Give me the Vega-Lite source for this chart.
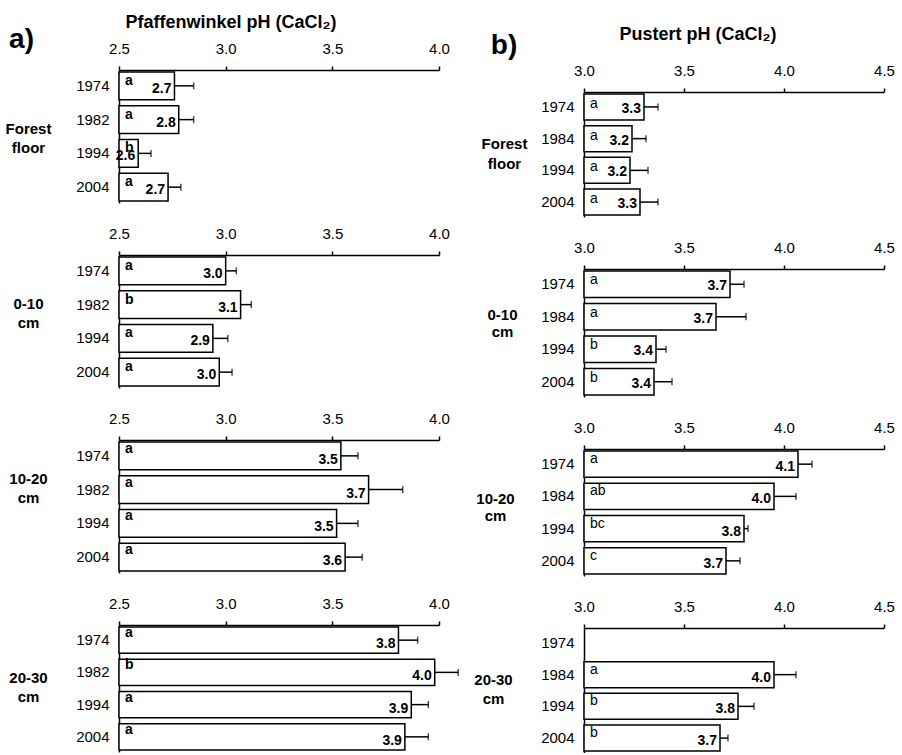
{
  "$schema": "https://vega.github.io/schema/vega-lite/v6.json",
  "background": "white",
  "padding": {"left": 5, "top": 13, "right": 2, "bottom": 0},
  "spacing": 14,
  "data": {"values": [
    {"site": "a", "depth": "Forest floor", "year": "1974", "ph": 2.76, "upper": 2.85, "label": "2.7", "group": "a"},
    {"site": "a", "depth": "Forest floor", "year": "1982", "ph": 2.78, "upper": 2.85, "label": "2.8", "group": "a"},
    {"site": "a", "depth": "Forest floor", "year": "1994", "ph": 2.59, "upper": 2.65, "label": "2.6", "group": "b"},
    {"site": "a", "depth": "Forest floor", "year": "2004", "ph": 2.73, "upper": 2.79, "label": "2.7", "group": "a"},
    {"site": "a", "depth": "0-10 cm", "year": "1974", "ph": 3.0, "upper": 3.05, "label": "3.0", "group": "a"},
    {"site": "a", "depth": "0-10 cm", "year": "1982", "ph": 3.07, "upper": 3.12, "label": "3.1", "group": "b"},
    {"site": "a", "depth": "0-10 cm", "year": "1994", "ph": 2.94, "upper": 3.01, "label": "2.9", "group": "a"},
    {"site": "a", "depth": "0-10 cm", "year": "2004", "ph": 2.97, "upper": 3.03, "label": "3.0", "group": "a"},
    {"site": "a", "depth": "10-20 cm", "year": "1974", "ph": 3.54, "upper": 3.62, "label": "3.5", "group": "a"},
    {"site": "a", "depth": "10-20 cm", "year": "1982", "ph": 3.67, "upper": 3.83, "label": "3.7", "group": "a"},
    {"site": "a", "depth": "10-20 cm", "year": "1994", "ph": 3.52, "upper": 3.62, "label": "3.5", "group": "a"},
    {"site": "a", "depth": "10-20 cm", "year": "2004", "ph": 3.56, "upper": 3.64, "label": "3.6", "group": "a"},
    {"site": "a", "depth": "20-30 cm", "year": "1974", "ph": 3.81, "upper": 3.9, "label": "3.8", "group": "a"},
    {"site": "a", "depth": "20-30 cm", "year": "1982", "ph": 3.98, "upper": 4.09, "label": "4.0", "group": "b"},
    {"site": "a", "depth": "20-30 cm", "year": "1994", "ph": 3.87, "upper": 3.95, "label": "3.9", "group": "a"},
    {"site": "a", "depth": "20-30 cm", "year": "2004", "ph": 3.84, "upper": 3.95, "label": "3.9", "group": "a"},
    {"site": "b", "depth": "Forest floor", "year": "1974", "ph": 3.3, "upper": 3.37, "label": "3.3", "group": "a"},
    {"site": "b", "depth": "Forest floor", "year": "1984", "ph": 3.24, "upper": 3.31, "label": "3.2", "group": "a"},
    {"site": "b", "depth": "Forest floor", "year": "1994", "ph": 3.23, "upper": 3.32, "label": "3.2", "group": "a"},
    {"site": "b", "depth": "Forest floor", "year": "2004", "ph": 3.28, "upper": 3.37, "label": "3.3", "group": "a"},
    {"site": "b", "depth": "0-10 cm", "year": "1974", "ph": 3.73, "upper": 3.8, "label": "3.7", "group": "a"},
    {"site": "b", "depth": "0-10 cm", "year": "1984", "ph": 3.66, "upper": 3.81, "label": "3.7", "group": "a"},
    {"site": "b", "depth": "0-10 cm", "year": "1994", "ph": 3.36, "upper": 3.41, "label": "3.4", "group": "b"},
    {"site": "b", "depth": "0-10 cm", "year": "2004", "ph": 3.35, "upper": 3.44, "label": "3.4", "group": "b"},
    {"site": "b", "depth": "10-20 cm", "year": "1974", "ph": 4.07, "upper": 4.14, "label": "4.1", "group": "a"},
    {"site": "b", "depth": "10-20 cm", "year": "1984", "ph": 3.95, "upper": 4.06, "label": "4.0", "group": "ab"},
    {"site": "b", "depth": "10-20 cm", "year": "1994", "ph": 3.8, "upper": 3.82, "label": "3.8", "group": "bc"},
    {"site": "b", "depth": "10-20 cm", "year": "2004", "ph": 3.71, "upper": 3.78, "label": "3.7", "group": "c"},
    {"site": "b", "depth": "20-30 cm", "year": "1984", "ph": 3.95, "upper": 4.06, "label": "4.0", "group": "a"},
    {"site": "b", "depth": "20-30 cm", "year": "1994", "ph": 3.77, "upper": 3.85, "label": "3.8", "group": "b"},
    {"site": "b", "depth": "20-30 cm", "year": "2004", "ph": 3.68, "upper": 3.72, "label": "3.7", "group": "b"}
  ]},
  "hconcat": [
    {
      "title": {"text": "a)", "anchor": "start", "fontSize": 28, "fontWeight": "bold", "dy": 45, "dx": 4, "offset": 4, "color": "black"},
      "spacing": 23,
      "vconcat": [
        {
          "width": 320, "height": 133,
          "transform": [{"filter": {"and": [{"field": "site", "equal": "a"}, {"field": "depth", "equal": "Forest floor"}]}}],
          "encoding": {"y": {"field": "year", "type": "ordinal", "scale": {"domain": ["1974", "1982", "1994", "2004"], "paddingInner": 0.18, "paddingOuter": 0.06}, "axis": {"title": ["Forest", "floor"], "titleX": -91, "titleY": 58}}},
          "layer": [
            {"mark": {"type": "bar", "fill": "white", "stroke": "black", "strokeWidth": 1.5}, "encoding": {"x": {"field": "ph", "type": "quantitative", "scale": {"domain": [2.5, 4.0], "nice": false, "zero": false}, "axis": {"orient": "top", "values": [2.5, 3, 3.5, 4], "format": ".1f", "title": "Pfaffenwinkel pH (CaCl₂)", "titleFontSize": 18, "titleFontWeight": "bold", "titlePadding": 10, "titleX": 6, "titleAlign": "left"}}, "x2": {"datum": 2.5}}},
            {"mark": {"type": "rule", "stroke": "black", "strokeWidth": 1.5}, "encoding": {"x": {"field": "ph", "type": "quantitative"}, "x2": {"field": "upper"}}},
            {"mark": {"type": "tick", "color": "black", "thickness": 1.5, "size": 7}, "encoding": {"x": {"field": "upper", "type": "quantitative"}}},
            {"mark": {"type": "text", "align": "left", "baseline": "middle", "dx": 6, "dy": -5, "fontSize": 14, "fontWeight": "bold", "color": "black"}, "encoding": {"x": {"datum": 2.5}, "text": {"field": "group"}}},
            {"mark": {"type": "text", "align": "right", "baseline": "middle", "dx": -3, "dy": 3, "fontSize": 14, "fontWeight": "bold", "color": "black"}, "encoding": {"x": {"field": "ph", "type": "quantitative"}, "text": {"field": "label"}}}
          ]
        },
        {
          "width": 320, "height": 133,
          "transform": [{"filter": {"and": [{"field": "site", "equal": "a"}, {"field": "depth", "equal": "0-10 cm"}]}}],
          "encoding": {"y": {"field": "year", "type": "ordinal", "scale": {"domain": ["1974", "1982", "1994", "2004"], "paddingInner": 0.18, "paddingOuter": 0.06}, "axis": {"title": ["0-10", "cm"], "titleX": -91, "titleY": 48}}},
          "layer": [
            {"mark": {"type": "bar", "fill": "white", "stroke": "black", "strokeWidth": 1.5}, "encoding": {"x": {"field": "ph", "type": "quantitative", "scale": {"domain": [2.5, 4.0], "nice": false, "zero": false}, "axis": {"orient": "top", "values": [2.5, 3, 3.5, 4], "format": ".1f", "title": null}}, "x2": {"datum": 2.5}}},
            {"mark": {"type": "rule", "stroke": "black", "strokeWidth": 1.5}, "encoding": {"x": {"field": "ph", "type": "quantitative"}, "x2": {"field": "upper"}}},
            {"mark": {"type": "tick", "color": "black", "thickness": 1.5, "size": 7}, "encoding": {"x": {"field": "upper", "type": "quantitative"}}},
            {"mark": {"type": "text", "align": "left", "baseline": "middle", "dx": 6, "dy": -5, "fontSize": 14, "fontWeight": "bold", "color": "black"}, "encoding": {"x": {"datum": 2.5}, "text": {"field": "group"}}},
            {"mark": {"type": "text", "align": "right", "baseline": "middle", "dx": -3, "dy": 3, "fontSize": 14, "fontWeight": "bold", "color": "black"}, "encoding": {"x": {"field": "ph", "type": "quantitative"}, "text": {"field": "label"}}}
          ]
        },
        {
          "width": 320, "height": 133,
          "transform": [{"filter": {"and": [{"field": "site", "equal": "a"}, {"field": "depth", "equal": "10-20 cm"}]}}],
          "encoding": {"y": {"field": "year", "type": "ordinal", "scale": {"domain": ["1974", "1982", "1994", "2004"], "paddingInner": 0.18, "paddingOuter": 0.06}, "axis": {"title": ["10-20", "cm"], "titleX": -91, "titleY": 38}}},
          "layer": [
            {"mark": {"type": "bar", "fill": "white", "stroke": "black", "strokeWidth": 1.5}, "encoding": {"x": {"field": "ph", "type": "quantitative", "scale": {"domain": [2.5, 4.0], "nice": false, "zero": false}, "axis": {"orient": "top", "values": [2.5, 3, 3.5, 4], "format": ".1f", "title": null}}, "x2": {"datum": 2.5}}},
            {"mark": {"type": "rule", "stroke": "black", "strokeWidth": 1.5}, "encoding": {"x": {"field": "ph", "type": "quantitative"}, "x2": {"field": "upper"}}},
            {"mark": {"type": "tick", "color": "black", "thickness": 1.5, "size": 7}, "encoding": {"x": {"field": "upper", "type": "quantitative"}}},
            {"mark": {"type": "text", "align": "left", "baseline": "middle", "dx": 6, "dy": -7, "fontSize": 14, "fontWeight": "bold", "color": "black"}, "encoding": {"x": {"datum": 2.5}, "text": {"field": "group"}}},
            {"mark": {"type": "text", "align": "right", "baseline": "middle", "dx": -3, "dy": 4, "fontSize": 14, "fontWeight": "bold", "color": "black"}, "encoding": {"x": {"field": "ph", "type": "quantitative"}, "text": {"field": "label"}}}
          ]
        },
        {
          "width": 320, "height": 127,
          "transform": [{"filter": {"and": [{"field": "site", "equal": "a"}, {"field": "depth", "equal": "20-30 cm"}]}}],
          "encoding": {"y": {"field": "year", "type": "ordinal", "scale": {"domain": ["1974", "1982", "1994", "2004"], "paddingInner": 0.18, "paddingOuter": 0.06}, "axis": {"title": ["20-30", "cm"], "titleX": -91, "titleY": 52}}},
          "layer": [
            {"mark": {"type": "bar", "fill": "white", "stroke": "black", "strokeWidth": 1.5}, "encoding": {"x": {"field": "ph", "type": "quantitative", "scale": {"domain": [2.5, 4.0], "nice": false, "zero": false}, "axis": {"orient": "top", "values": [2.5, 3, 3.5, 4], "format": ".1f", "title": null}}, "x2": {"datum": 2.5}}},
            {"mark": {"type": "rule", "stroke": "black", "strokeWidth": 1.5}, "encoding": {"x": {"field": "ph", "type": "quantitative"}, "x2": {"field": "upper"}}},
            {"mark": {"type": "tick", "color": "black", "thickness": 1.5, "size": 7}, "encoding": {"x": {"field": "upper", "type": "quantitative"}}},
            {"mark": {"type": "text", "align": "left", "baseline": "middle", "dx": 6, "dy": -7, "fontSize": 14, "fontWeight": "bold", "color": "black"}, "encoding": {"x": {"datum": 2.5}, "text": {"field": "group"}}},
            {"mark": {"type": "text", "align": "right", "baseline": "middle", "dx": -3, "dy": 4, "fontSize": 14, "fontWeight": "bold", "color": "black"}, "encoding": {"x": {"field": "ph", "type": "quantitative"}, "text": {"field": "label"}}}
          ]
        }
      ]
    },
    {
      "title": {"text": "b)", "anchor": "start", "fontSize": 28, "fontWeight": "bold", "dy": 39, "dx": 17, "offset": 4, "color": "black"},
      "spacing": 23,
      "vconcat": [
        {
          "width": 300, "height": 147,
          "transform": [{"filter": {"and": [{"field": "site", "equal": "b"}, {"field": "depth", "equal": "Forest floor"}]}}],
          "encoding": {"y": {"field": "year", "type": "ordinal", "scale": {"domain": ["1974", "1984", "1994", "2004"], "range": [22, 147], "paddingInner": 0.18, "paddingOuter": 0.06}, "axis": {"title": ["Forest", "floor"], "titleX": -80, "titleY": 73, "titleLineHeight": 20}}},
          "layer": [
            {"mark": {"type": "bar", "fill": "white", "stroke": "black", "strokeWidth": 1.5}, "encoding": {"x": {"field": "ph", "type": "quantitative", "scale": {"domain": [3.0, 4.5], "nice": false, "zero": false}, "axis": {"orient": "top", "offset": -22, "values": [3, 3.5, 4, 4.5], "format": ".1f", "title": "Pustert pH (CaCl₂)", "titleFontSize": 18, "titleFontWeight": "bold", "titlePadding": 20, "titleX": 35, "titleAlign": "left"}}, "x2": {"datum": 3.0}}},
            {"mark": {"type": "rule", "stroke": "black", "strokeWidth": 1.5}, "encoding": {"x": {"field": "ph", "type": "quantitative"}, "x2": {"field": "upper"}}},
            {"mark": {"type": "tick", "color": "black", "thickness": 1.5, "size": 7}, "encoding": {"x": {"field": "upper", "type": "quantitative"}}},
            {"mark": {"type": "text", "align": "left", "baseline": "middle", "dx": 6, "dy": -3, "fontSize": 14, "color": "black"}, "encoding": {"x": {"datum": 3.0}, "text": {"field": "group"}}},
            {"mark": {"type": "text", "align": "right", "baseline": "middle", "dx": -3, "dy": 2, "fontSize": 14, "fontWeight": "bold", "color": "black"}, "encoding": {"x": {"field": "ph", "type": "quantitative"}, "text": {"field": "label"}}}
          ]
        },
        {
          "width": 300, "height": 128,
          "transform": [{"filter": {"and": [{"field": "site", "equal": "b"}, {"field": "depth", "equal": "0-10 cm"}]}}],
          "encoding": {"y": {"field": "year", "type": "ordinal", "scale": {"domain": ["1974", "1984", "1994", "2004"], "paddingInner": 0.18, "paddingOuter": 0.06}, "axis": {"title": ["0-10", "cm"], "titleX": -82, "titleY": 45, "titleLineHeight": 17}}},
          "layer": [
            {"mark": {"type": "bar", "fill": "white", "stroke": "black", "strokeWidth": 1.5}, "encoding": {"x": {"field": "ph", "type": "quantitative", "scale": {"domain": [3.0, 4.5], "nice": false, "zero": false}, "axis": {"orient": "top", "values": [3, 3.5, 4, 4.5], "format": ".1f", "title": null}}, "x2": {"datum": 3.0}}},
            {"mark": {"type": "rule", "stroke": "black", "strokeWidth": 1.5}, "encoding": {"x": {"field": "ph", "type": "quantitative"}, "x2": {"field": "upper"}}},
            {"mark": {"type": "tick", "color": "black", "thickness": 1.5, "size": 7}, "encoding": {"x": {"field": "upper", "type": "quantitative"}}},
            {"mark": {"type": "text", "align": "left", "baseline": "middle", "dx": 6, "dy": -4, "fontSize": 14, "color": "black"}, "encoding": {"x": {"datum": 3.0}, "text": {"field": "group"}}},
            {"mark": {"type": "text", "align": "right", "baseline": "middle", "dx": -3, "dy": 2, "fontSize": 14, "fontWeight": "bold", "color": "black"}, "encoding": {"x": {"field": "ph", "type": "quantitative"}, "text": {"field": "label"}}}
          ]
        },
        {
          "width": 300, "height": 127,
          "transform": [{"filter": {"and": [{"field": "site", "equal": "b"}, {"field": "depth", "equal": "10-20 cm"}]}}],
          "encoding": {"y": {"field": "year", "type": "ordinal", "scale": {"domain": ["1974", "1984", "1994", "2004"], "paddingInner": 0.18, "paddingOuter": 0.06}, "axis": {"title": ["10-20", "cm"], "titleX": -89, "titleY": 49, "titleLineHeight": 17}}},
          "layer": [
            {"mark": {"type": "bar", "fill": "white", "stroke": "black", "strokeWidth": 1.5}, "encoding": {"x": {"field": "ph", "type": "quantitative", "scale": {"domain": [3.0, 4.5], "nice": false, "zero": false}, "axis": {"orient": "top", "values": [3, 3.5, 4, 4.5], "format": ".1f", "title": null}}, "x2": {"datum": 3.0}}},
            {"mark": {"type": "rule", "stroke": "black", "strokeWidth": 1.5}, "encoding": {"x": {"field": "ph", "type": "quantitative"}, "x2": {"field": "upper"}}},
            {"mark": {"type": "tick", "color": "black", "thickness": 1.5, "size": 7}, "encoding": {"x": {"field": "upper", "type": "quantitative"}}},
            {"mark": {"type": "text", "align": "left", "baseline": "middle", "dx": 6, "dy": -5, "fontSize": 14, "color": "black"}, "encoding": {"x": {"datum": 3.0}, "text": {"field": "group"}}},
            {"mark": {"type": "text", "align": "right", "baseline": "middle", "dx": -3, "dy": 3, "fontSize": 14, "fontWeight": "bold", "color": "black"}, "encoding": {"x": {"field": "ph", "type": "quantitative"}, "text": {"field": "label"}}}
          ]
        },
        {
          "width": 300, "height": 125,
          "transform": [{"filter": {"and": [{"field": "site", "equal": "b"}, {"field": "depth", "equal": "20-30 cm"}]}}],
          "encoding": {"y": {"field": "year", "type": "ordinal", "scale": {"domain": ["1974", "1984", "1994", "2004"], "paddingInner": 0.18, "paddingOuter": 0.06}, "axis": {"title": ["20-30", "cm"], "titleX": -91, "titleY": 51}}},
          "layer": [
            {"mark": {"type": "bar", "fill": "white", "stroke": "black", "strokeWidth": 1.5}, "encoding": {"x": {"field": "ph", "type": "quantitative", "scale": {"domain": [3.0, 4.5], "nice": false, "zero": false}, "axis": {"orient": "top", "values": [3, 3.5, 4, 4.5], "format": ".1f", "title": null}}, "x2": {"datum": 3.0}}},
            {"mark": {"type": "rule", "stroke": "black", "strokeWidth": 1.5}, "encoding": {"x": {"field": "ph", "type": "quantitative"}, "x2": {"field": "upper"}}},
            {"mark": {"type": "tick", "color": "black", "thickness": 1.5, "size": 7}, "encoding": {"x": {"field": "upper", "type": "quantitative"}}},
            {"mark": {"type": "text", "align": "left", "baseline": "middle", "dx": 6, "dy": -5, "fontSize": 14, "color": "black"}, "encoding": {"x": {"datum": 3.0}, "text": {"field": "group"}}},
            {"mark": {"type": "text", "align": "right", "baseline": "middle", "dx": -3, "dy": 3, "fontSize": 14, "fontWeight": "bold", "color": "black"}, "encoding": {"x": {"field": "ph", "type": "quantitative"}, "text": {"field": "label"}}}
          ]
        }
      ]
    }
  ],
  "config": {
    "font": "Liberation Sans",
    "view": {"stroke": null},
    "axis": {"domainColor": "black", "domainWidth": 1.5, "tickColor": "black", "labelColor": "black", "titleColor": "black", "grid": false, "labelFont": "Liberation Sans", "labelFontSize": 15, "titleFont": "Liberation Sans"},
    "axisX": {"tickSize": 4, "tickWidth": 1.5, "labelPadding": 10, "labelFlush": false, "labelOverlap": false},
    "axisY": {"ticks": false, "labelPadding": 10, "titleAngle": 0, "titleAlign": "center", "titleBaseline": "middle", "titleFontSize": 15, "titleFontWeight": "bold", "titleLineHeight": 19}
  }
}
